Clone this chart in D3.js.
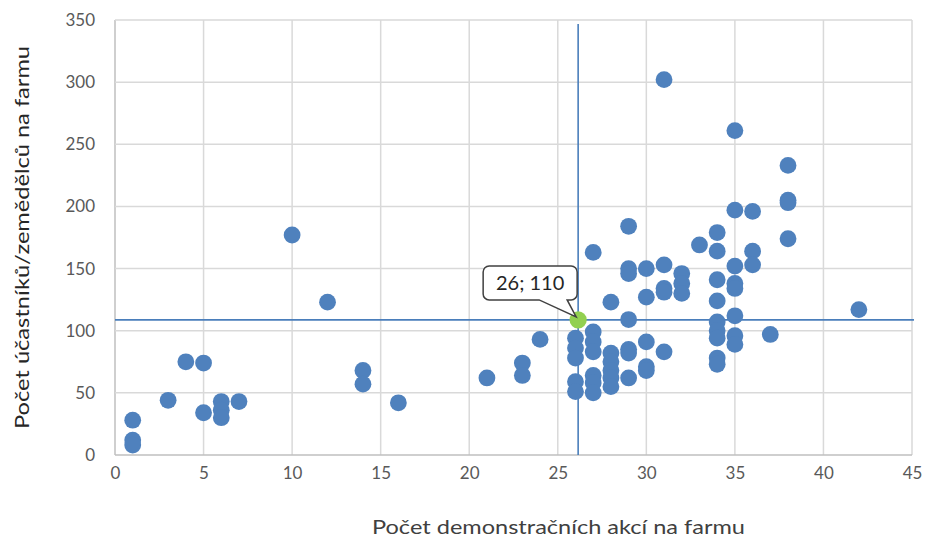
<!DOCTYPE html>
<html>
<head>
<meta charset="utf-8">
<script src="https://cdn.jsdelivr.net/npm/d3@7"></script>
<style>
  body { margin: 0; background: #fff; }
  svg text { font-family: Lato, "Open Sans", sans-serif; }
</style>
</head>
<body>
<div id="chart"></div>
<script>
// demonstration events per farm (x) and participants per farm (y)
var akce = [1, 1, 1, 3, 4, 5, 5, 6, 6, 6, 7, 10, 12, 14, 14, 16, 21, 23, 23, 24,
    26, 26, 26, 26, 26,
    27, 27, 27, 27, 27, 27, 27,
    28, 28, 28, 28, 28, 28,
    29, 29, 29, 29, 29, 29, 29,
    30, 30, 30, 30, 30,
    31, 31, 31, 31, 31,
    32, 32, 32, 33,
    34, 34, 34, 34, 34, 34, 34, 34, 34,
    35, 35, 35, 35, 35, 35, 35, 35,
    36, 36, 36, 37, 38, 38, 38, 38, 42];
var ucastnici = [28, 12, 8, 44, 75, 74, 34, 43, 36, 30, 43, 177, 123, 68, 57, 42, 62, 74, 64, 93,
    94, 86, 78, 59, 51,
    163, 99, 91, 83, 64, 58, 50,
    123, 82, 75, 68, 62, 55,
    184, 150, 146, 109, 85, 82, 62,
    150, 127, 91, 71, 68,
    302, 153, 134, 131, 83,
    146, 138, 130, 169,
    179, 164, 141, 124, 107, 100, 94, 78, 73,
    261, 197, 152, 138, 134, 112, 96, 89,
    196, 164, 153, 97, 233, 205, 203, 174, 117];

var prumerX = 26.15, prumerY = 108.7;
var popisek = "26; 110";
var xTicks = [0, 5, 10, 15, 20, 25, 30, 35, 40, 45];
var yTicks = [0, 50, 100, 150, 200, 250, 300, 350];

var W = 925, H = 541;
var margin = { top: 20, right: 13, bottom: 86, left: 115 },
    width = W - margin.left - margin.right,
    height = H - margin.top - margin.bottom;

var x = d3.scaleLinear().domain([0, 45]).range([0, width]);
var y = d3.scaleLinear().domain([0, 350]).range([height, 0]);

var svg = d3.select("#chart").append("svg")
    .attr("width", W)
    .attr("height", H);

var g = svg.append("g")
    .attr("transform", "translate(" + margin.left + "," + margin.top + ")");

// gridlines
g.append("g").selectAll("line")
    .data(xTicks)
    .enter().append("line")
    .attr("x1", function (d) { return x(d); })
    .attr("x2", function (d) { return x(d); })
    .attr("y1", 0)
    .attr("y2", height)
    .attr("stroke", function (d) { return d === 0 ? "#bfbfbf" : "#d9d9d9"; })
    .attr("stroke-width", 1.5);

g.append("g").selectAll("line")
    .data(yTicks)
    .enter().append("line")
    .attr("x1", 0)
    .attr("x2", width)
    .attr("y1", function (d) { return y(d); })
    .attr("y2", function (d) { return y(d); })
    .attr("stroke", function (d) { return d === 0 ? "#bfbfbf" : "#d9d9d9"; })
    .attr("stroke-width", 1.5);

// axes (labels only)
var xAxis = d3.axisBottom(x).tickValues(xTicks).tickSize(0).tickPadding(12);
var yAxis = d3.axisLeft(y).tickValues(yTicks).tickSize(0).tickPadding(20);

g.append("g")
    .attr("transform", "translate(0," + height + ")")
    .call(xAxis)
    .call(function (s) { s.select(".domain").remove(); })
    .selectAll("text")
    .attr("fill", "#595959")
    .style("font-size", "17px");

g.append("g")
    .call(yAxis)
    .call(function (s) { s.select(".domain").remove(); })
    .selectAll("text")
    .attr("fill", "#595959")
    .style("font-size", "17px");

// mean lines
g.append("line")
    .attr("x1", x(prumerX)).attr("x2", x(prumerX))
    .attr("y1", 4).attr("y2", height)
    .attr("stroke", "#4a7ebb").attr("stroke-width", 1.6);

g.append("line")
    .attr("x1", 0).attr("x2", width + 2)
    .attr("y1", y(prumerY)).attr("y2", y(prumerY))
    .attr("stroke", "#4a7ebb").attr("stroke-width", 1.6);

// points
var data = akce.map(function (d, i) { return { x: d, y: ucastnici[i] }; });

g.append("g").selectAll("circle")
    .data(data)
    .enter().append("circle")
    .attr("cx", function (d) { return x(d.x); })
    .attr("cy", function (d) { return y(d.y); })
    .attr("r", 8.4)
    .attr("fill", "#4f81bd");

// highlighted average farm
g.append("circle")
    .attr("cx", x(prumerX))
    .attr("cy", y(prumerY))
    .attr("r", 8.6)
    .attr("fill", "#92d050");

// callout
var bx0 = x(prumerX) - 95, bx1 = x(prumerX) - 1,
    by0 = y(prumerY) - 54, by1 = y(prumerY) - 20, rr = 6;
var px = x(prumerX) - 2, py = y(prumerY) - 3;
var path = d3.path();
path.moveTo(bx0 + rr, by0);
path.lineTo(bx1 - rr, by0);
path.arcTo(bx1, by0, bx1, by0 + rr, rr);
path.lineTo(bx1, by1 - rr);
path.arcTo(bx1, by1, bx1 - rr, by1, rr);
path.lineTo(bx1 - 10, by1);
path.lineTo(px, py);
path.lineTo(bx1 - 38, by1);
path.lineTo(bx0 + rr, by1);
path.arcTo(bx0, by1, bx0, by1 - rr, rr);
path.lineTo(bx0, by0 + rr);
path.arcTo(bx0, by0, bx0 + rr, by0, rr);
path.closePath();

g.append("path")
    .attr("d", path.toString())
    .attr("fill", "#fff")
    .attr("stroke", "#404040")
    .attr("stroke-width", 1.5);

g.append("text")
    .attr("x", (bx0 + bx1) / 2)
    .attr("y", (by0 + by1) / 2)
    .attr("dy", "0.36em")
    .attr("text-anchor", "middle")
    .attr("fill", "#262626")
    .style("font-size", "20px")
    .text(popisek);

// axis titles
svg.append("text")
    .attr("x", 372)
    .attr("y", 534)
    .attr("textLength", 373)
    .attr("lengthAdjust", "spacingAndGlyphs")
    .attr("fill", "#404040")
    .style("font-size", "20px")
    .text("Počet demonstračních akcí na farmu");

svg.append("text")
    .attr("transform", "translate(29,429) rotate(-90)")
    .attr("textLength", 383)
    .attr("lengthAdjust", "spacingAndGlyphs")
    .attr("fill", "#262626")
    .style("font-size", "20px")
    .text("Počet účastníků/zemědělců na farmu");
</script>
</body>
</html>
